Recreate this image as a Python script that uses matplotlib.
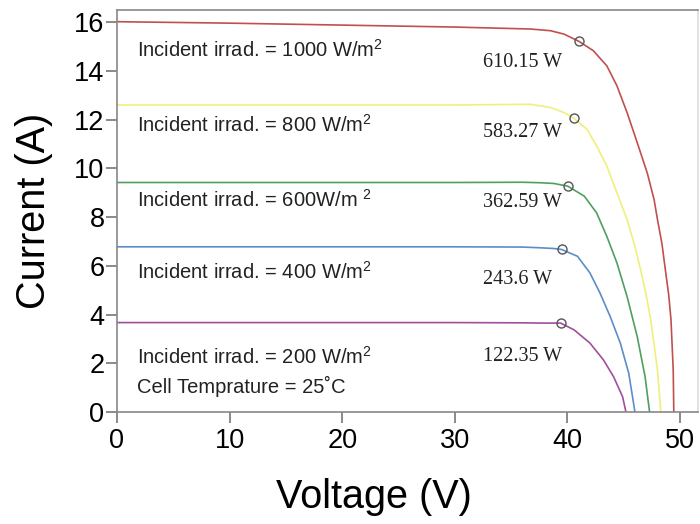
import matplotlib
matplotlib.use("Agg")
import matplotlib.pyplot as plt

plt.rcParams['font.family'] = ['Liberation Sans', 'DejaVu Sans']
plt.rcParams['mathtext.fontset'] = 'custom'
plt.rcParams['mathtext.rm'] = 'Liberation Sans'
plt.rcParams['mathtext.it'] = 'Liberation Sans:italic'

# I-V curves (voltage V, current A)
v_1000 = [0, 10, 20, 30, 36.7, 38.5, 39.7, 41.04, 42.3, 43.5, 44.4, 45.3, 46.2, 47.1, 47.7, 48.0, 48.4, 48.7, 49.0, 49.2, 49.4, 49.45]
i_1000 = [16.02, 15.96, 15.88, 15.8, 15.72, 15.65, 15.51, 15.21, 14.83, 14.21, 13.39, 12.29, 11.06, 9.8, 8.72, 7.9, 6.9, 5.84, 4.8, 3.79, 1.73, 0.0]

v_800 = [0, 10, 20, 30, 36.7, 38.5, 39.7, 40.56, 41.75, 42.6, 43.5, 44.4, 45.3, 46.0, 46.5, 47.0, 47.4, 48.0, 48.3]
i_800 = [12.6, 12.6, 12.6, 12.6, 12.63, 12.5, 12.29, 12.06, 11.6, 10.92, 10.1, 9.0, 7.9, 6.8, 5.84, 4.8, 3.79, 1.73, 0.0]

v_600 = [0, 10, 20, 30, 36.0, 37.6, 38.8, 40.03, 41.5, 42.6, 43.5, 44.4, 45.3, 46.2, 46.9, 47.3]
i_600 = [9.42, 9.42, 9.42, 9.42, 9.43, 9.41, 9.38, 9.27, 8.86, 8.17, 7.21, 6.12, 4.74, 3.1, 1.45, 0.0]

v_400 = [0, 10, 20, 30, 36.0, 37.6, 38.8, 39.5, 40.9, 42.0, 42.9, 43.8, 44.7, 45.45, 46.0]
i_400 = [6.78, 6.78, 6.78, 6.78, 6.77, 6.74, 6.71, 6.67, 6.39, 5.71, 4.88, 3.92, 2.83, 1.59, 0.0]

v_200 = [0, 10, 20, 30, 36.0, 37.6, 39.4, 40.6, 42.0, 43.2, 44.1, 44.9, 45.2]
i_200 = [3.67, 3.67, 3.67, 3.67, 3.66, 3.65, 3.65, 3.37, 2.83, 2.14, 1.45, 0.63, 0.0]

# maximum power points
mpp_v = [41.04, 40.56, 40.03, 39.5, 39.4]
mpp_i = [15.21, 12.06, 9.27, 6.67, 3.65]
mpp_labels = ['610.15 W', '583.27 W', '362.59 W', '243.6 W', '122.35 W']
mpp_label_y = [14.36, 11.48, 8.6, 5.43, 2.26]

irr_labels = ['Incident irrad. = 1000 W/m$^{2}$', 'Incident irrad. = 800 W/m$^{2}$',
              'Incident irrad. = 600W/m $^{2}$', 'Incident irrad. = 400 W/m$^{2}$',
              'Incident irrad. = 200 W/m$^{2}$']
irr_label_y = [14.85, 11.8, 8.72, 5.76, 2.26]

curves = [(v_1000, i_1000, '#c0504f'), (v_800, i_800, '#f0ef7c'), (v_600, i_600, '#4f9f5f'),
          (v_400, i_400, '#5b8ec8'), (v_200, i_200, '#a04f9a')]

fig = plt.figure(figsize=(7, 5.24), dpi=100)
ax = fig.add_axes([117 / 700, (524 - 412) / 524, (698 - 117) / 700, (412 - 10) / 524])

for v, i, c in curves:
    ax.plot(v, i, color=c, linewidth=1.2)

ax.plot(mpp_v, mpp_i, linestyle='none', marker='o', markersize=6.5,
        markerfacecolor='none', markeredgecolor='#555555', markeredgewidth=1.0)

for lab, y in zip(irr_labels, irr_label_y):
    ax.text(1.8, y, lab, fontsize=14.5, va='center', ha='left', color='#222222')
ax.text(1.8, 1.03, 'Cell Temprature = 25˚C', fontsize=14.5, va='center', ha='left', color='#222222')

for lab, y in zip(mpp_labels, mpp_label_y):
    ax.text(32.5, y, lab, fontsize=14.5, va='center', ha='left', color='#222222',
            family=['Liberation Serif', 'DejaVu Serif'])

ax.set_xlim(0, 51.6)
ax.set_ylim(0, 16.5)
ax.set_xticks([0, 10, 20, 30, 40, 50])
ax.set_yticks([0, 2, 4, 6, 8, 10, 12, 14, 16])
ax.tick_params(direction='out', length=8, width=1.2, color='#777777', labelsize=19.5)
ax.tick_params(axis='y', pad=1)
ax.tick_params(axis='x', pad=3.5)

for s in ax.spines.values():
    s.set_color('#888888')
    s.set_linewidth(1.2)
ax.spines['right'].set_color('#dddddd')

ax.set_xlabel('Voltage (V)', fontsize=28.5)
ax.set_ylabel('Current (A)', fontsize=28.5, labelpad=15)
# the x title sits left of the axes centre in the original
ax.xaxis.set_label_coords(0.442, -0.163)

fig.savefig('out.png', dpi=100)
